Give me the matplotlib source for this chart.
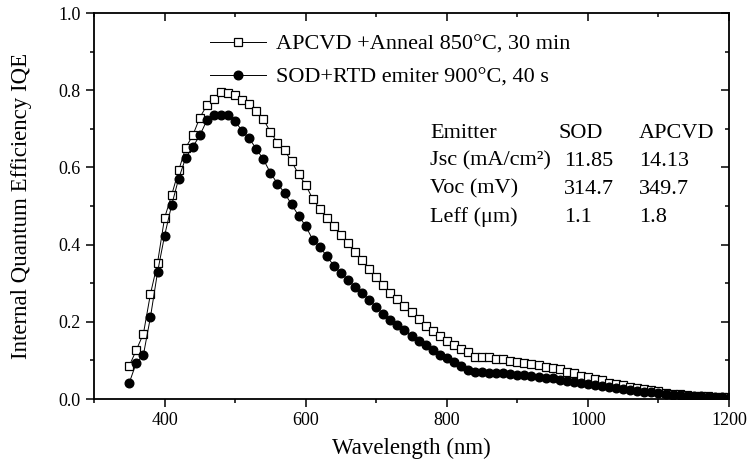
import numpy as np
import matplotlib
matplotlib.use("Agg")
import matplotlib.pyplot as plt

# wavelength grid (nm)
wavelength = [350, 360, 370, 380, 390, 400, 410, 420, 430, 440,
              450, 460, 470, 480, 490, 500, 510, 520, 530, 540,
              550, 560, 570, 580, 590, 600, 610, 620, 630, 640,
              650, 660, 670, 680, 690, 700, 710, 720, 730, 740,
              750, 760, 770, 780, 790, 800, 810, 820, 830, 840,
              850, 860, 870, 880, 890, 900, 910, 920, 930, 940,
              950, 960, 970, 980, 990, 1000, 1010, 1020, 1030, 1040,
              1050, 1060, 1070, 1080, 1090, 1100, 1110, 1120, 1130, 1140,
              1150, 1160, 1170, 1180, 1190, 1200]

# APCVD + anneal (open squares)
iqe_apcvd = [0.086, 0.127, 0.169, 0.272, 0.352, 0.469, 0.528, 0.592, 0.651, 0.683,
             0.729, 0.761, 0.778, 0.796, 0.793, 0.787, 0.774, 0.765, 0.745, 0.725,
             0.692, 0.664, 0.644, 0.616, 0.582, 0.555, 0.518, 0.493, 0.469, 0.448,
             0.426, 0.404, 0.380, 0.359, 0.338, 0.316, 0.296, 0.274, 0.258, 0.241,
             0.226, 0.207, 0.190, 0.175, 0.163, 0.151, 0.139, 0.129, 0.121, 0.110,
             0.108, 0.108, 0.104, 0.103, 0.099, 0.097, 0.093, 0.091, 0.087, 0.084,
             0.081, 0.077, 0.071, 0.067, 0.060, 0.056, 0.051, 0.048, 0.042, 0.039,
             0.036, 0.032, 0.029, 0.025, 0.023, 0.020, 0.016, 0.014, 0.012, 0.010,
             0.009, 0.008, 0.007, 0.006, 0.005, 0.004]

# SOD + RTD emitter (filled circles)
iqe_sod = [0.042, 0.094, 0.114, 0.212, 0.328, 0.423, 0.502, 0.571, 0.625, 0.653,
           0.683, 0.722, 0.736, 0.735, 0.735, 0.720, 0.694, 0.675, 0.648, 0.621,
           0.586, 0.558, 0.534, 0.504, 0.475, 0.448, 0.413, 0.394, 0.370, 0.345,
           0.326, 0.309, 0.290, 0.275, 0.257, 0.238, 0.220, 0.205, 0.192, 0.179,
           0.164, 0.151, 0.140, 0.126, 0.114, 0.106, 0.097, 0.086, 0.074, 0.071,
           0.070, 0.068, 0.067, 0.067, 0.065, 0.062, 0.062, 0.060, 0.058, 0.055,
           0.054, 0.049, 0.047, 0.044, 0.041, 0.039, 0.036, 0.033, 0.030, 0.028,
           0.025, 0.023, 0.021, 0.019, 0.017, 0.015, 0.013, 0.011, 0.010, 0.009,
           0.008, 0.007, 0.006, 0.005, 0.004, 0.003]

labels = ["APCVD +Anneal 850\u00b0C, 30 min", "SOD+RTD emiter 900\u00b0C, 40 s"]

# inset table
table_rows = [["Emitter", "SOD", "APCVD"],
              ["Jsc (mA/cm\u00b2)", "11.85", "14.13"],
              ["Voc (mV)", "314.7", "349.7"],
              ["Leff (\u03bcm)", "1.1", "1.8"]]

plt.rcParams['font.family'] = ['Liberation Serif', 'DejaVu Serif']

fig = plt.figure(figsize=(7.47, 4.66), dpi=100)
ax = fig.add_axes([94 / 747, 1 - 399 / 466, 635 / 747, 386 / 466])

ax.plot(wavelength, iqe_apcvd, color='black', lw=0.7, marker='s', ms=5.8,
        mfc='white', mec='black', mew=0.9, label=labels[0])
ax.plot(wavelength, iqe_sod, color='black', lw=0.7, marker='o', ms=6.2,
        mfc='black', mec='black', label=labels[1])

ax.set_xlim(300, 1200)
ax.set_ylim(0, 1.0)
ax.set_xticks([400, 600, 800, 1000, 1200])
ax.set_xticks(np.arange(300, 1201, 100), minor=True)
ax.set_yticks([0.0, 0.2, 0.4, 0.6, 0.8, 1.0])
ax.set_yticks(np.arange(0, 1.01, 0.1), minor=True)
ax.set_yticklabels(["0.0", "0.2", "0.4", "0.6", "0.8", "1.0"])

for s in ax.spines.values():
    s.set_linewidth(1.3)

ax.tick_params(axis='both', which='major', labelsize=13, length=6, width=1.1)
ax.tick_params(axis='both', which='minor', length=3, width=1.1)
# top / right ticks point inwards
ax.tick_params(top=True, right=True, which='both')
ax.xaxis.set_tick_params(which='both', direction='out')
ax.yaxis.set_tick_params(which='both', direction='out')
for t in ax.xaxis.get_major_ticks() + ax.xaxis.get_minor_ticks():
    t.tick2line.set_marker(3)
for t in ax.yaxis.get_major_ticks() + ax.yaxis.get_minor_ticks():
    t.tick2line.set_marker(0)

ax.set_xlabel("Wavelength (nm)", fontsize=16.5, labelpad=6)
ax.set_ylabel("Internal Quantum Efficiency IQE", fontsize=16.5, labelpad=19)

ax.legend(loc='upper left', bbox_to_anchor=(0.183, 0.945), frameon=False,
          fontsize=16, handlelength=2.5, handletextpad=0.45, labelspacing=0.55,
          borderaxespad=0, borderpad=0)

col_x = [430, 558, 639]
row_y = [133, 161, 189, 217]
for i, row in enumerate(table_rows):
    for j, txt in enumerate(row):
        x = col_x[j]
        if i > 0 and j == 1:
            x = 564
        fig.text(x / 747, 1 - row_y[i] / 466, txt, fontsize=16,
                 ha='left', va='center')

fig.savefig("out.png", dpi=100)
